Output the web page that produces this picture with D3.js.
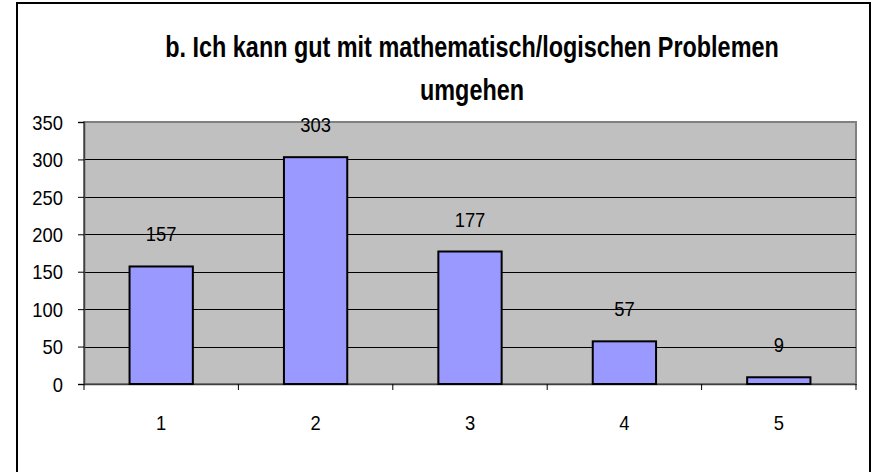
<!DOCTYPE html>
<html>
<head>
<meta charset="utf-8">
<script src="https://cdn.jsdelivr.net/npm/d3@7"></script>
<style>
  body { margin: 0; background: #fff; }
  text { font-family: Arial, "Liberation Sans", sans-serif; fill: #000; }
</style>
</head>
<body>
<div id="chart-area"></div>
<script>
const categories = ["1", "2", "3", "4", "5"];
const values = [157, 303, 177, 57, 9];
const yTicks = [0, 50, 100, 150, 200, 250, 300, 350];
const titleLines = ["b. Ich kann gut mit mathematisch/logischen Problemen", "umgehen"];

const chartSize = { width: 874, height: 472 };
const plot = { left: 84, right: 856, top: 122, bottom: 384 };

// squeeze text horizontally (the original font is narrow)
const squeeze = (sel, factor) => {
  sel.each(function() {
    const t = d3.select(this);
    const tx = +t.attr("x") || 0;
    const ty = +t.attr("y") || 0;
    t.attr("x", 0)
      .attr("y", 0)
      .attr("transform", `translate(${tx}, ${ty}) scale(${factor}, 1)`);
  });
};

const svg = d3
  .select("#chart-area")
  .append("svg")
  .attr("width", chartSize.width)
  .attr("height", chartSize.height);

// outer frame
svg
  .append("rect")
  .attr("x", 17)
  .attr("y", 3)
  .attr("width", 853)
  .attr("height", 500)
  .attr("fill", "#fff")
  .attr("stroke", "#000")
  .attr("stroke-width", 2);

const x = d3
  .scaleBand()
  .domain(categories)
  .range([plot.left, plot.right])
  .paddingInner(0.59)
  .paddingOuter(0.295);

const xBand = d3
  .scaleBand()
  .domain(categories)
  .range([plot.left, plot.right]);

const y = d3
  .scaleLinear()
  .domain([0, 350])
  .range([plot.bottom, plot.top]);

// plot area
svg
  .append("rect")
  .attr("x", plot.left)
  .attr("y", plot.top)
  .attr("width", plot.right - plot.left)
  .attr("height", plot.bottom - plot.top)
  .attr("fill", "#c0c0c0")
  .attr("stroke", "#808080")
  .attr("stroke-width", 2);

// gridlines
svg
  .append("g")
  .selectAll("line")
  .data(yTicks.filter(t => t > 0 && t < 350))
  .join("line")
  .attr("x1", plot.left)
  .attr("x2", plot.right)
  .attr("y1", d => Math.round(y(d)) + 0.5)
  .attr("y2", d => Math.round(y(d)) + 0.5)
  .attr("stroke", "#000")
  .attr("stroke-width", 1);

// y axis
const yAxis = svg
  .append("g")
  .attr("transform", `translate(${plot.left}, 0)`)
  .call(d3.axisLeft(y).tickValues(yTicks).tickSize(6).tickPadding(15));
yAxis.select(".domain").attr("stroke", "#404040").attr("stroke-width", 1.5);
yAxis.selectAll(".tick line").attr("stroke", "#000");
yAxis
  .selectAll(".tick text")
  .attr("font-size", 20)
  .attr("font-family", "Arial, 'Liberation Sans', sans-serif")
  .attr("dy", "0.36em")
  .call(squeeze, 0.92);

// x axis
const xAxis = svg
  .append("g")
  .attr("transform", `translate(0, ${plot.bottom})`)
  .call(d3.axisBottom(xBand).tickSize(0).tickPadding(0));
xAxis.select(".domain").attr("stroke", "#404040").attr("stroke-width", 1.5);
xAxis
  .selectAll(".tick text")
  .attr("font-size", 20)
  .attr("font-family", "Arial, 'Liberation Sans', sans-serif")
  .attr("y", 46)
  .attr("dy", 0)
  .call(squeeze, 0.92);

// tick marks on category boundaries
svg
  .append("g")
  .selectAll("line")
  .data(categories)
  .join("line")
  .attr("x1", d => xBand(d) + xBand.bandwidth())
  .attr("x2", d => xBand(d) + xBand.bandwidth())
  .attr("y1", plot.bottom)
  .attr("y2", plot.bottom + 6)
  .attr("stroke", "#000");
svg
  .append("line")
  .attr("x1", plot.left)
  .attr("x2", plot.left)
  .attr("y1", plot.bottom)
  .attr("y2", plot.bottom + 6)
  .attr("stroke", "#000");

// bars
svg
  .append("g")
  .selectAll("rect")
  .data(values)
  .join("rect")
  .attr("x", (d, i) => x(categories[i]))
  .attr("y", d => y(d))
  .attr("width", x.bandwidth())
  .attr("height", d => plot.bottom - y(d))
  .attr("fill", "#9999ff")
  .attr("stroke", "#000")
  .attr("stroke-width", 2);

// value labels
svg
  .append("g")
  .selectAll("text")
  .data(values)
  .join("text")
  .attr("x", (d, i) => x(categories[i]) + x.bandwidth() / 2)
  .attr("y", d => y(d) - 25)
  .attr("text-anchor", "middle")
  .attr("font-size", 20)
  .text(d => d)
  .call(squeeze, 0.92);

// title
svg
  .append("g")
  .selectAll("text")
  .data(titleLines)
  .join("text")
  .attr("x", 472)
  .attr("y", (d, i) => 57 + i * 43)
  .attr("text-anchor", "middle")
  .attr("font-size", 30)
  .attr("font-weight", "bold")
  .text(d => d)
  .call(squeeze, 0.78);
</script>
</body>
</html>
